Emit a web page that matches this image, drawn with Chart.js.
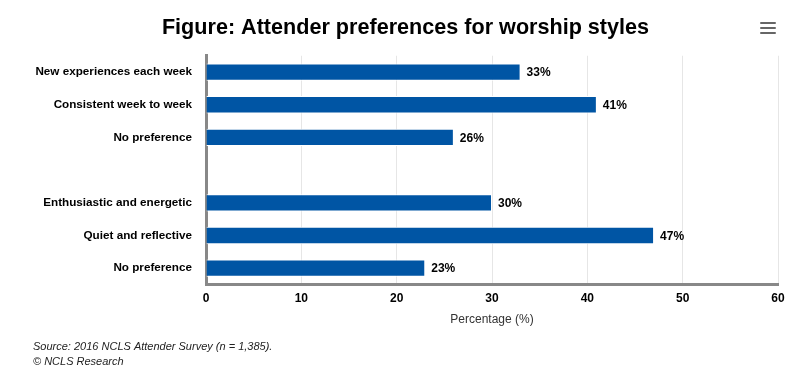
<!DOCTYPE html>
<html>
<head>
<meta charset="utf-8">
<script src="https://cdn.jsdelivr.net/npm/chart.js@4.4.1/dist/chart.umd.min.js"></script>
<style>
  html, body { margin: 0; padding: 0; background: #fff; }
  canvas { display: block; }
</style>
</head>
<body>
<canvas id="c" width="804" height="380"></canvas>
<script>
const categories = [
  'New experiences each week',
  'Consistent week to week',
  'No preference',
  '',
  'Enthusiastic and energetic',
  'Quiet and reflective',
  'No preference'
];
const percentages = [33, 41, 26, null, 30, 47, 23];
const xTicks = [0, 10, 20, 30, 40, 50, 60];
const titleText = 'Figure: Attender preferences for worship styles';
const axisTitle = 'Percentage (%)';
const sourceLines = ['Source: 2016 NCLS Attender Survey (n = 1,385).', '\u00A9 NCLS Research'];

const FONT = '"Liberation Sans", Arial, Helvetica, sans-serif';

const valueLabels = {
  id: 'valueLabels',
  afterDatasetsDraw(chart) {
    const ctx = chart.ctx;
    const meta = chart.getDatasetMeta(0);
    ctx.save();
    ctx.font = 'bold 12px ' + FONT;
    ctx.fillStyle = '#000';
    ctx.textAlign = 'left';
    ctx.textBaseline = 'middle';
    meta.data.forEach((el, i) => {
      const v = percentages[i];
      if (v === null || v === undefined) return;
      ctx.fillText(v + '%', el.x + 6, el.y + 1);
    });
    ctx.restore();
  }
};

const menuIcon = {
  id: 'menuIcon',
  afterDraw(chart) {
    const ctx = chart.ctx;
    ctx.save();
    ctx.strokeStyle = '#666';
    ctx.lineWidth = 2;
    ctx.lineCap = 'round';
    [23, 28, 33].forEach(y => {
      ctx.beginPath();
      ctx.moveTo(761, y);
      ctx.lineTo(775, y);
      ctx.stroke();
    });
    ctx.restore();
  }
};

new Chart(document.getElementById('c'), {
  type: 'bar',
  data: {
    labels: categories,
    datasets: [{
      data: percentages,
      backgroundColor: '#0055A4',
      borderColor: '#ffffff',
      borderWidth: 1,
      barPercentage: 0.53,
      categoryPercentage: 1
    }]
  },
  options: {
    indexAxis: 'y',
    responsive: false,
    animation: false,
    layout: { padding: { left: 33, right: 26, top: 0, bottom: 0 } },
    plugins: {
      legend: { display: false },
      tooltip: { enabled: false },
      title: {
        display: true,
        text: titleText,
        color: '#000',
        font: { family: FONT, size: 21.6, weight: 'bold', lineHeight: 1.1 },
        padding: { top: 16, bottom: 16 }
      },
      subtitle: {
        display: true,
        position: 'bottom',
        align: 'start',
        text: sourceLines,
        color: '#222',
        font: { family: FONT, size: 11, style: 'italic', lineHeight: 1.35 },
        padding: { top: 8, bottom: 11 }
      }
    },
    scales: {
      x: {
        type: 'linear',
        min: xTicks[0],
        max: xTicks[xTicks.length - 1],
        afterBuildTicks(scale) {
          scale.ticks = xTicks.map(v => ({ value: v }));
        },
        grid: { color: '#e6e6e6', lineWidth: 1, drawTicks: false },
        border: { display: true, color: '#888', width: 3 },
        ticks: {
          color: '#000',
          padding: 7,
          font: { family: FONT, size: 12, weight: 'bold' }
        },
        title: {
          display: true,
          text: axisTitle,
          color: '#333',
          font: { family: FONT, size: 12 },
          padding: { top: 0, bottom: 4 }
        }
      },
      y: {
        type: 'category',
        afterFit(scale) { scale.width = 173; },
        grid: { display: false, drawTicks: false },
        border: { display: true, color: '#888', width: 3 },
        ticks: {
          color: '#000',
          padding: 14,
          autoSkip: false,
          font: { family: FONT, size: 11.7, weight: 'bold' }
        }
      }
    }
  },
  plugins: [valueLabels, menuIcon]
});
</script>
</body>
</html>
